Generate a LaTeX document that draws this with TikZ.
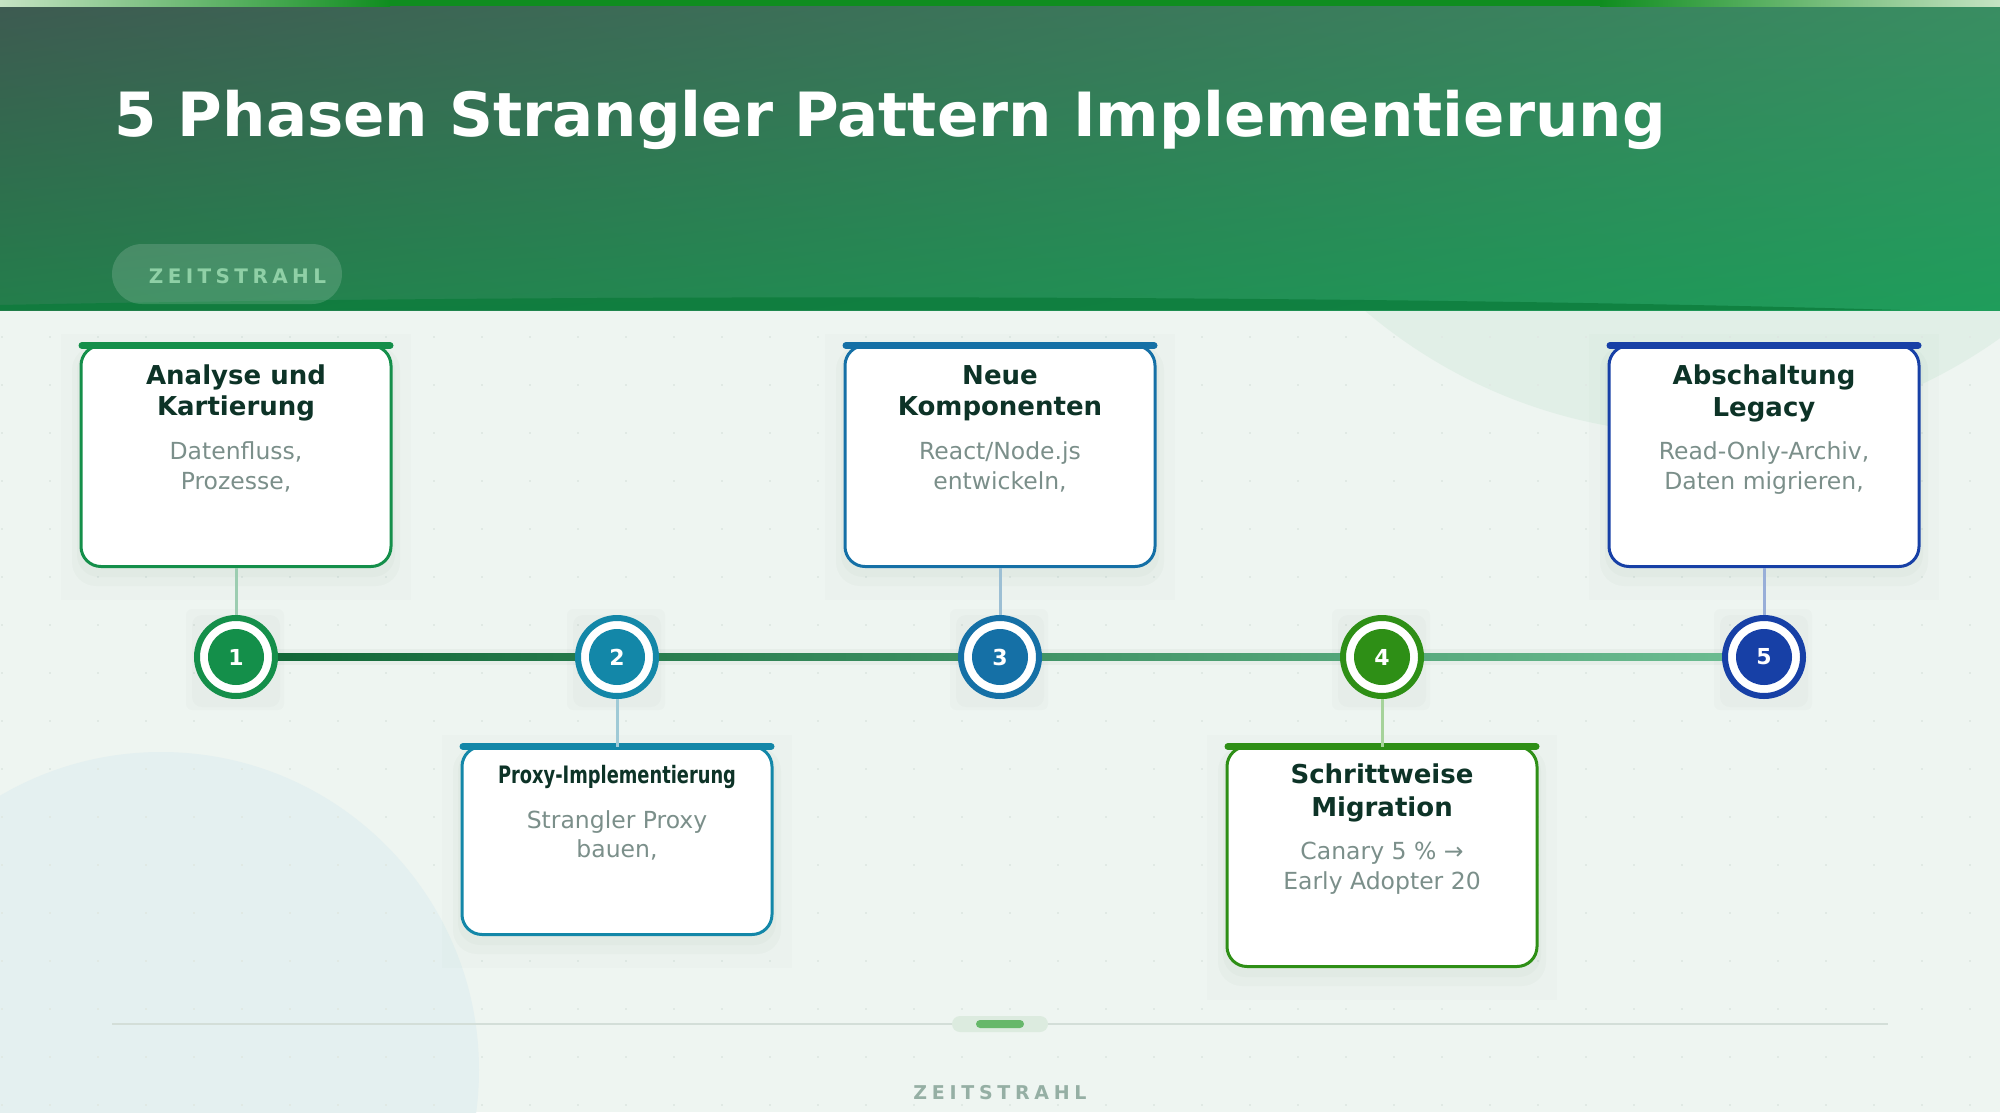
\documentclass[tikz,border=0pt]{standalone}
\usepackage{fontspec}
\setmainfont{DejaVu Sans}
\usepackage{graphicx}
\usetikzlibrary{calc,shadings}
\definecolor{bg}{HTML}{EEF5F1}
\definecolor{decoA}{HTML}{E1EFE7}
\definecolor{decoB}{HTML}{E4F0F0}
\definecolor{gridc}{HTML}{E0E9E4}
\definecolor{hUL}{HTML}{3E5A51}
\definecolor{hUR}{HTML}{3A8D62}
\definecolor{hLL}{HTML}{237E4B}
\definecolor{hLR}{HTML}{1F9D5B}
\definecolor{hdark}{HTML}{0B7B3A}
\definecolor{accA}{HTML}{C5E3C3}
\definecolor{accB}{HTML}{0F8D1F}
\definecolor{pilltxt}{HTML}{8FD0A6}
\definecolor{cA}{HTML}{148F4A}
\definecolor{cB}{HTML}{1387A8}
\definecolor{cC}{HTML}{1570A6}
\definecolor{cD}{HTML}{2E8F16}
\definecolor{cE}{HTML}{1740A6}
\definecolor{pA}{HTML}{9CCDB1}
\definecolor{pB}{HTML}{9FCAD6}
\definecolor{pC}{HTML}{9CBFD4}
\definecolor{pD}{HTML}{A6D39A}
\definecolor{pE}{HTML}{98AED8}
\definecolor{tlA}{HTML}{0F6535}
\definecolor{tlB}{HTML}{6DBE93}
\definecolor{ttlc}{HTML}{0D3327}
\definecolor{dscc}{HTML}{7B8F8A}
\definecolor{footl}{HTML}{D3DED8}
\definecolor{footp}{HTML}{DCEBDF}
\definecolor{footg}{HTML}{66B86A}
\definecolor{foott}{HTML}{95AFA4}
\definecolor{shc}{HTML}{2F4A3C}
\newcommand\zeitword[1]{Z\kern#1 E\kern#1 I\kern#1 T\kern#1 S\kern#1 T\kern#1 R\kern#1 A\kern#1 H\kern#1 L}
\tikzset{
  cardbox/.style={draw=#1, line width=3pt, fill=white, rounded corners=20pt,
    minimum width=310pt, inner sep=0pt},
  topbar/.style={draw=#1, line width=7pt, line cap=round},
  conn/.style={draw=#1, line width=3pt},
  phase/.style={circle, draw=#1, line width=6pt, fill=white, minimum size=78pt,
    inner sep=0pt, text=white, font=\bfseries\fontsize{22}{22}\selectfont,
    path picture={\fill[#1] (path picture bounding box.center) circle (28pt);}},
  ttl/.style={anchor=base, font=\bfseries\fontsize{26}{26}\selectfont, text=ttlc, inner sep=0pt},
  dsc/.style={anchor=base, font=\fontsize{23.5}{23.5}\selectfont, text=dscc, inner sep=0pt},
  softsh/.style={fill=shc, opacity=0.018},
}
\begin{document}
\begin{tikzpicture}[x=1pt,y=1pt]
\useasboundingbox (0,0) rectangle (2000,-1112);
\fill[bg] (0,0) rectangle (2000,-1112);
\begin{scope}
  \clip (0,0) rectangle (2000,-1112);
  \fill[decoA] (1700,83) circle (517);
  \fill[decoB] (161,-1070) circle (318);
  \foreach \gx in {2,50,...,2000}{
    \foreach \gy in {337,385,...,1112}{
      \fill[gridc] (\gx-1.2,-\gy-1.2) rectangle (\gx+1.2,-\gy+1.2);
    }
  }
\end{scope}

% header
\shade[upper left=hUL, upper right=hUR, lower left=hLL, lower right=hLR] (0,0) rectangle (2000,-310);
\fill[hdark, opacity=0.75] (0,-310) -- (0,-305) .. controls (500,-295) and (1300,-293) .. (1900,-310) -- cycle;
\shade[left color=accA, right color=accB] (0,0) rectangle (390,-6);
\fill[accB] (390,0) rectangle (1600,-6);
\shade[left color=accB, right color=accA] (1600,0) rectangle (2000,-6);
\node[anchor=base west, inner sep=0pt, text=white, font=\bfseries\fontsize{61}{61}\selectfont] (title) at (114,-136) {5 Phasen Strangler Pattern Implementierung};
\fill[white, opacity=0.15, rounded corners=30pt] (112,-244) rectangle (342,-304);
\node[anchor=base, inner sep=0pt, text=pilltxt, font=\bfseries\fontsize{20}{20}\selectfont] (hzeit) at (237.5,-283) {\zeitword{4.4pt}};

% circle nodes (positions)
\path (236,-657) coordinate (p1) (617,-657) coordinate (p2) (1000,-657) coordinate (p3)
      (1382,-657) coordinate (p4) (1764,-657) coordinate (p5);

% circle shadows
\foreach \p in {p1,p2,p3,p4,p5}{
  \fill[softsh, rounded corners=6pt] ($(\p)+(-50,48)$) rectangle ($(\p)+(48,-53)$);
  \fill[softsh, rounded corners=10pt] ($(\p)+(-44,42)$) rectangle ($(\p)+(44,-50)$);
}

% card shadows
\foreach \cx/\ty/\by in {236/344/568, 1000/344/568, 1764/344/568, 617/745/936, 1382/745/968}{
  \fill[shc, opacity=0.012] (\cx-175,-\ty+10) rectangle (\cx+175,-\by-32);
  \fill[shc, opacity=0.022, rounded corners=24pt] (\cx-164,-\ty-2) rectangle (\cx+164,-\by-18);
  \fill[shc, opacity=0.025, rounded corners=22pt] (\cx-159,-\ty-4) rectangle (\cx+159,-\by-9);
}

% timeline
\fill[shc, opacity=0.04] ($(p1)+(0,8)$) rectangle ($(p5)+(0,-8)$);
\shade[left color=tlA, right color=tlB] ($(p1)+(0,3.5)$) rectangle ($(p5)+(0,-3.5)$);

% cards
\node[cardbox=cA, minimum height=221pt] (k1) at (236,-456) {};
\node[cardbox=cB, minimum height=188pt] (k2) at (617,-840.5) {};
\node[cardbox=cC, minimum height=221pt] (k3) at (1000,-456) {};
\node[cardbox=cD, minimum height=220pt] (k4) at (1382,-856.5) {};
\node[cardbox=cE, minimum height=221pt] (k5) at (1764,-456) {};

\draw[topbar=cA] ($(k1.north west)+(2.5,-1.5)$) -- ($(k1.north east)+(-2.5,-1.5)$);
\draw[topbar=cB] ($(k2.north west)+(2.5,-1.5)$) -- ($(k2.north east)+(-2.5,-1.5)$);
\draw[topbar=cC] ($(k3.north west)+(2.5,-1.5)$) -- ($(k3.north east)+(-2.5,-1.5)$);
\draw[topbar=cD] ($(k4.north west)+(2.5,-1.5)$) -- ($(k4.north east)+(-2.5,-1.5)$);
\draw[topbar=cE] ($(k5.north west)+(2.5,-1.5)$) -- ($(k5.north east)+(-2.5,-1.5)$);

% phase circles
\node[phase=cA] (n1) at (p1) {1};
\node[phase=cB] (n2) at (p2) {2};
\node[phase=cC] (n3) at (p3) {3};
\node[phase=cD] (n4) at (p4) {4};
\node[phase=cE] (n5) at (p5) {5};

% connectors
\draw[conn=pA] (k1.south) -- (n1.north);
\draw[conn=pB] (n2.south) -- ($(k2.north)+(0,-1.5)$);
\draw[conn=pC] (k3.south) -- (n3.north);
\draw[conn=pD] (n4.south) -- ($(k4.north)+(0,-1.5)$);
\draw[conn=pE] (k5.south) -- (n5.north);

% card 1
\node[ttl] (t1a) at (236,-384) {Analyse und};
\node[ttl] (t1b) at (236,-415) {Kartierung};
\node[dsc] (d1a) at (236,-459) {Datenfluss,};
\node[dsc] (d1b) at (236,-489) {Prozesse,};
% card 2
\node[ttl, font=\bfseries\fontsize{24}{24}\selectfont] (t2a) at (617,-783) {\resizebox{238pt}{\height}{Proxy-Implementierung}};
\node[dsc] (d2a) at (617,-828) {Strangler Proxy};
\node[dsc] (d2b) at (617,-857) {bauen,};
% card 3
\node[ttl] (t3a) at (1000,-384) {Neue};
\node[ttl] (t3b) at (1000,-415) {Komponenten};
\node[dsc] (d3a) at (1000,-459) {React/Node.js};
\node[dsc] (d3b) at (1000,-489) {entwickeln,};
% card 4
\node[ttl] (t4a) at (1382,-783) {Schrittweise};
\node[ttl] (t4b) at (1382,-816) {Migration};
\node[dsc] (d4a) at (1382,-859) {Canary 5 \% →};
\node[dsc] (d4b) at (1382,-889) {Early Adopter 20};
% card 5
\node[ttl] (t5a) at (1764,-384) {Abschaltung};
\node[ttl] (t5b) at (1764,-416) {Legacy};
\node[dsc] (d5a) at (1764,-459) {Read-Only-Archiv,};
\node[dsc] (d5b) at (1764,-489) {Daten migrieren,};

% footer
\coordinate (fl) at (112,-1024);
\coordinate (fr) at (1888,-1024);
\draw[footl, line width=2pt] (fl) -- (fr);
\fill[footp, rounded corners=8pt] (952,-1016) rectangle (1048,-1032);
\fill[footg, rounded corners=4pt] (976,-1020) rectangle (1024,-1028);
\node[anchor=base, inner sep=0pt, text=foott, font=\bfseries\fontsize{19}{19}\selectfont] (fzeit) at (1000,-1099) {\zeitword{4.7pt}};
\end{tikzpicture}
\end{document}
